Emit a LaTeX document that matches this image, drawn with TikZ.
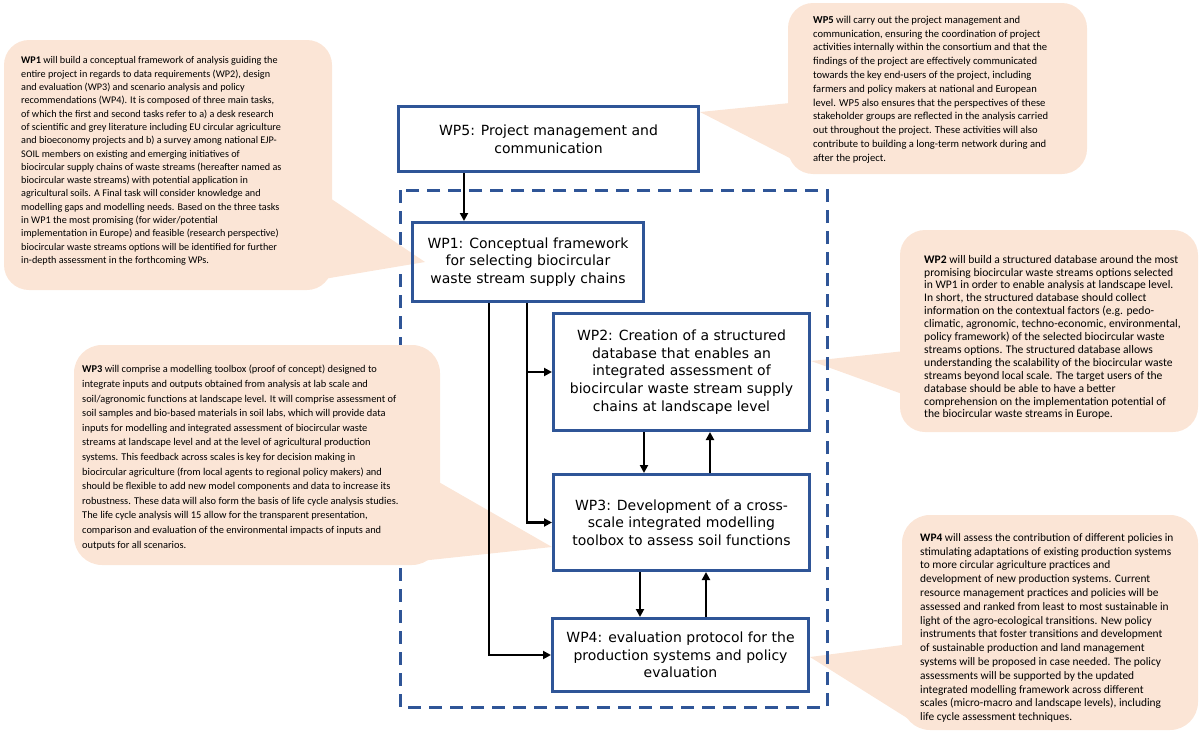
\documentclass[tikz,border=0pt]{standalone}
\usepackage{fontspec}
\setmainfont{Carlito}
\newfontfamily\boxfont{DejaVu Sans}
\usetikzlibrary{arrows.meta}

\definecolor{wpblue}{HTML}{2F5597}
\definecolor{callout}{HTML}{FBE5D6}

\tikzset{
  wpbox/.style={draw=wpblue, line width=3pt, align=center, inner sep=2pt,
    font=\boxfont\fontsize{14}{17.7}\selectfont},
  flow/.style={line width=2.5pt, -{Triangle[length=8pt,width=8pt]}},
  note/.style={align=left, inner sep=0pt, anchor=west},
  frame/.style={draw=wpblue, line width=3pt, dash pattern=on 13pt off 8pt},
}

\begin{document}
\begin{tikzpicture}[x=1pt,y=-1pt]
  \useasboundingbox (0,0) rectangle (1200,736);

  % callouts behind the frame
  \fill[callout, rounded corners=25pt] (788,3) rectangle (1087,174);
  \fill[callout] (700,112) -- (800,102) -- (815,171) -- cycle;
  \fill[callout, rounded corners=25pt] (900,230) rectangle (1198,432);
  \fill[callout] (811,361) -- (905,351) -- (905,395) -- cycle;
  \fill[callout, rounded corners=28pt] (902,515) rectangle (1198,730);
  \fill[callout] (810,657) -- (910,644) -- (915,723) -- cycle;

  \draw[frame] (400,190) rectangle (827,707);

  % callouts over the frame
  \fill[callout, rounded corners=25pt] (4,40) rectangle (332,290);
  \fill[callout] (330,198) -- (425,262) -- (300,283) -- cycle;
  \fill[callout, rounded corners=28pt] (74,345) rectangle (440,565);
  \fill[callout] (552,547) -- (430,477) -- (420,561) -- cycle;

  % work packages
  \node[wpbox, minimum width=300pt, minimum height=65pt] (wp5) at (548.5,139)
    {WP5: Project management and\\communication};
  \node[wpbox, minimum width=231pt, minimum height=79pt] (wp1) at (528,262)
    {WP1: Conceptual framework\\for selecting biocircular\\waste stream supply chains};
  \node[wpbox, minimum width=256pt, minimum height=117pt] (wp2) at (681.5,372)
    {WP2: Creation of a structured\\database that enables an\\integrated assessment of\\biocircular waste stream supply\\chains at landscape level};
  \node[wpbox, minimum width=256pt, minimum height=96pt] (wp3) at (681.5,522.5)
    {WP3: Development of a cross-\\scale integrated modelling\\toolbox to assess soil functions};
  \node[wpbox, minimum width=256pt, minimum height=73pt] (wp4) at (680.5,655)
    {WP4: evaluation protocol for the\\production systems and policy\\evaluation};

  % connectors
  \coordinate (x5) at (464,0);
  \coordinate (xa) at (489,0);
  \coordinate (xb) at (527,0);
  \coordinate (xc) at (644,0);
  \coordinate (xd) at (710,0);
  \coordinate (xe) at (640,0);
  \coordinate (xf) at (706,0);
  \draw[flow] (x5 |- wp5.south) -- (x5 |- wp1.north);
  \draw[flow] (xa |- wp1.south) |- (wp4.west);
  \draw[flow] (xb |- wp1.south) |- (wp3.west);
  \draw[flow] (xb |- wp2.west) -- (wp2.west);
  \draw[flow] (xc |- wp2.south) -- (xc |- wp3.north);
  \draw[flow] (xd |- wp3.north) -- (xd |- wp2.south);
  \draw[flow] (xe |- wp3.south) -- (xe |- wp4.north);
  \draw[flow] (xf |- wp4.north) -- (xf |- wp3.south);

  % callout texts
  \node[note, font=\fontsize{10.2}{13.33}\selectfont] (t1) at (21,161) {%
\textbf{WP1} will build a conceptual framework of analysis guiding the\\
entire project in regards to data requirements (WP2), design\\
and evaluation (WP3) and scenario analysis and policy\\
recommendations (WP4). It is composed of three main tasks,\\
of which the first and second tasks refer to a) a desk research\\
of scientific and grey literature including EU circular agriculture\\
and bioeconomy projects and b) a survey among national EJP-\\
SOIL members on existing and emerging initiatives of\\
biocircular supply chains of waste streams (hereafter named as\\
biocircular waste streams) with potential application in\\
agricultural soils. A Final task will consider knowledge and\\
modelling gaps and modelling needs. Based on the three tasks\\
in WP1 the most promising (for wider/potential\\
implementation in Europe) and feasible (research perspective)\\
biocircular waste streams options will be identified for further\\
in-depth assessment in the forthcoming WPs.};
  \node[note, font=\fontsize{10.6}{13.77}\selectfont] (t5) at (813,89.5) {%
\textbf{WP5} will carry out the project management and\\
communication, ensuring the coordination of project\\
activities internally within the consortium and that the\\
findings of the project are effectively communicated\\
towards the key end-users of the project, including\\
farmers and policy makers at national and European\\
level. WP5 also ensures that the perspectives of these\\
stakeholder groups are reflected in the analysis carried\\
out throughout the project. These activities will also\\
contribute to building a long-term network during and\\
after the project.};
  \node[note, font=\fontsize{11.6}{12.9}\selectfont] (t2) at (924,337.5) {%
\textbf{WP2} will build a structured database around the most\\
promising biocircular waste streams options selected\\
in WP1 in order to enable analysis at landscape level.\\
In short, the structured database should collect\\
information on the contextual factors (e.g. pedo-\\
climatic, agronomic, techno-economic, environmental,\\
policy framework) of the selected biocircular waste\\
streams options. The structured database allows\\
understanding the scalability of the biocircular waste\\
streams beyond local scale. The target users of the\\
database should be able to have a better\\
comprehension on the implementation potential of\\
the biocircular waste streams in Europe.};
  \node[note, font=\fontsize{10.4}{14.6}\selectfont] (t3) at (82,457.5) {%
\textbf{WP3} will comprise a modelling toolbox (proof of concept) designed to\\
integrate inputs and outputs obtained from analysis at lab scale and\\
soil/agronomic functions at landscape level. It will comprise assessment of\\
soil samples and bio-based materials in soil labs, which will provide data\\
inputs for modelling and integrated assessment of biocircular waste\\
streams at landscape level and at the level of agricultural production\\
systems. This feedback across scales is key for decision making in\\
biocircular agriculture (from local agents to regional policy makers) and\\
should be flexible to add new model components and data to increase its\\
robustness. These data will also form the basis of life cycle analysis studies.\\
The life cycle analysis will 15 allow for the transparent presentation,\\
comparison and evaluation of the environmental impacts of inputs and\\
outputs for all scenarios.};
  \node[note, font=\fontsize{11.4}{13.8}\selectfont] (t4) at (920,628) {%
\textbf{WP4} will assess the contribution of different policies in\\
stimulating adaptations of existing production systems\\
to more circular agriculture practices and\\
development of new production systems. Current\\
resource management practices and policies will be\\
assessed and ranked from least to most sustainable in\\
light of the agro-ecological transitions. New policy\\
instruments that foster transitions and development\\
of sustainable production and land management\\
systems will be proposed in case needed. The policy\\
assessments will be supported by the updated\\
integrated modelling framework across different\\
scales (micro-macro and landscape levels), including\\
life cycle assessment techniques.};
\end{tikzpicture}
\end{document}
